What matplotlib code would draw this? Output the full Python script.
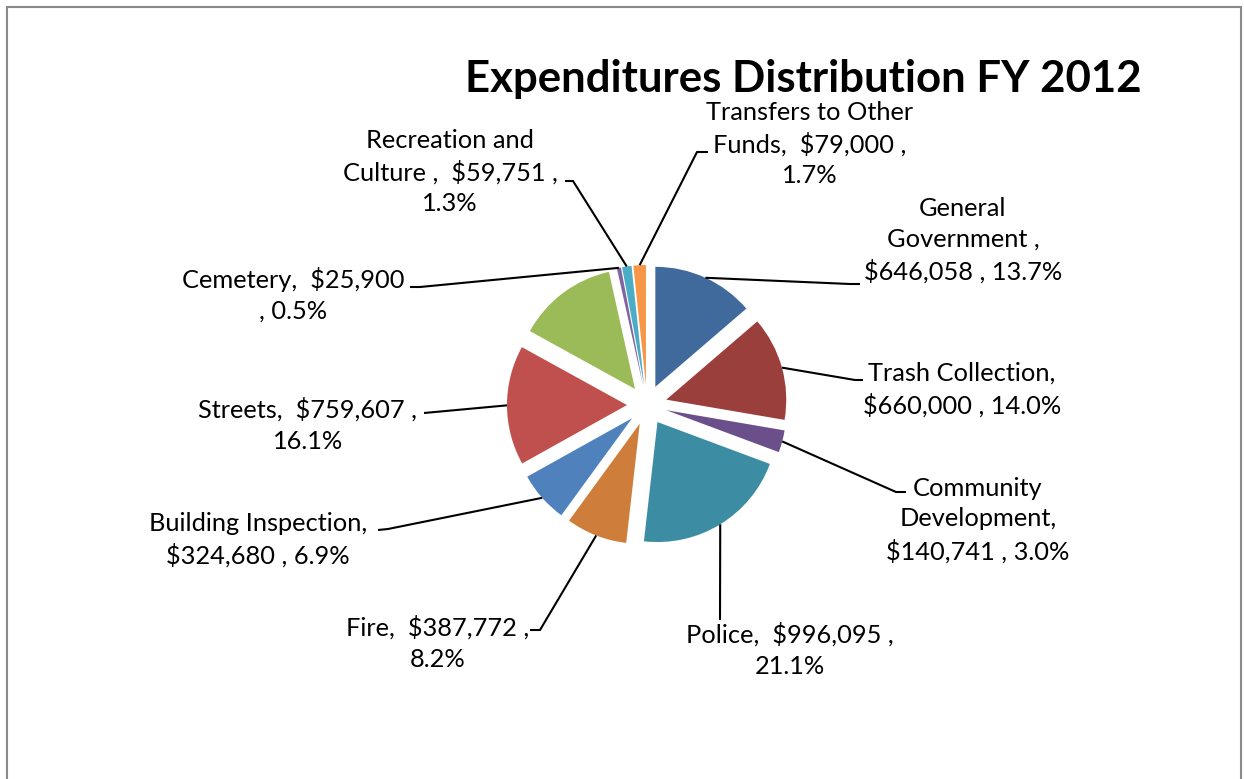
import numpy as np
import matplotlib
matplotlib.use('Agg')
import matplotlib.pyplot as plt
from matplotlib.patches import Rectangle

plt.rcParams['font.family'] = ['Lato', 'DejaVu Sans']
plt.rcParams['text.parse_math'] = False

# Datos del gráfico (sentido horario desde las 12)
categories = ['General Government', 'Trash Collection', 'Community Development',
              'Police', 'Fire', 'Building Inspection', 'Streets', 'Parks',
              'Cemetery', 'Recreation and Culture', 'Transfers to Other Funds']
values = [646058, 660000, 140741, 996095, 387772, 324680, 759607, 636400,
          25900, 59751, 79000]

# Plantillas de etiquetas tal como aparecen (la rebanada verde no tiene etiqueta)
label_templates = [
    'General\nGovernment ,\n{v} , {p}',
    'Trash Collection,\n{v} , {p}',
    'Community\nDevelopment,\n{v} , {p}',
    'Police,  {v} ,\n{p}',
    'Fire,  {v} ,\n{p}',
    'Building Inspection,\n{v} , {p}',
    'Streets,  {v} ,\n{p}',
    '',
    'Cemetery,  {v}\n, {p}',
    'Recreation and\nCulture ,  {v} ,\n{p}',
    'Transfers to Other\nFunds,  {v} ,\n{p}',
]

colors = ['#40699C', '#9B3F3D', '#6A4F8A', '#3C8DA3', '#CE7E3A', '#4F81BD',
          '#C0504D', '#9BBB59', '#8064A2', '#4BACC6', '#F79646']

W, H = 1244, 779

# posiciones de etiquetas (centro) y quiebres de las líneas guía, en pixeles de imagen
label_pos = [(963, 240), (962, 390), (978, 520), (790, 650), (438, 643),
             (258, 540), (308, 425), None, (293, 295), (450, 172), (810, 144)]
leader_pts = [
    [(850, 284), (860, 284)],
    [(855, 380), (863, 380)],
    [(896, 492), (906, 492)],
    [(720, 620)],
    [(540, 630), (530, 630)],
    [(388, 529), (378, 530)],
    [(435, 412), (424, 413)],
    None,
    [(420, 287), (410, 287)],
    [(573, 181), (565, 181)],
    [(697, 152), (708, 152)],
]


def fy(y):
    return H - y


fig = plt.figure(figsize=(W / 100, H / 100), dpi=100)
ax = fig.add_axes([0, 0, 1, 1])

wedges, _ = ax.pie(values, colors=colors, startangle=90, counterclock=False,
                   center=(647, fy(405)), radius=120,
                   explode=[20] * len(values),
                   wedgeprops=dict(linewidth=0))

ax.set_xlim(0, W)
ax.set_ylim(0, H)
ax.set_aspect('auto')
ax.axis('off')

total = sum(values)
for w, val, tpl, pos, pts in zip(wedges, values, label_templates, label_pos, leader_pts):
    if not tpl:
        continue
    txt = tpl.format(v='${:,}'.format(val), p='{:.1f}%'.format(100 * val / total))
    ax.text(pos[0], fy(pos[1]), txt, ha='center', va='center', fontsize=18.3,
            linespacing=1.42, color='black')
    # la línea guía sale del borde de la rebanada, a mitad del ángulo
    mid = np.deg2rad((w.theta1 + w.theta2) / 2)
    x0 = w.center[0] + w.r * np.cos(mid)
    y0 = w.center[1] + w.r * np.sin(mid)
    xs = [x0] + [p[0] for p in pts]
    ys = [y0] + [fy(p[1]) for p in pts]
    ax.plot(xs, ys, color='black', lw=1.5, solid_capstyle='butt')

ax.text(803, fy(92), 'Expenditures Distribution FY 2012', ha='center', va='baseline',
        fontsize=31.5, fontweight='bold')

# marco gris del área del gráfico
ax.add_patch(Rectangle((7, -20), 1234, fy(7) + 20, fill=False, edgecolor='#8A8A8A',
                       lw=1.5, clip_on=False))

fig.savefig('out.png', dpi=100)
